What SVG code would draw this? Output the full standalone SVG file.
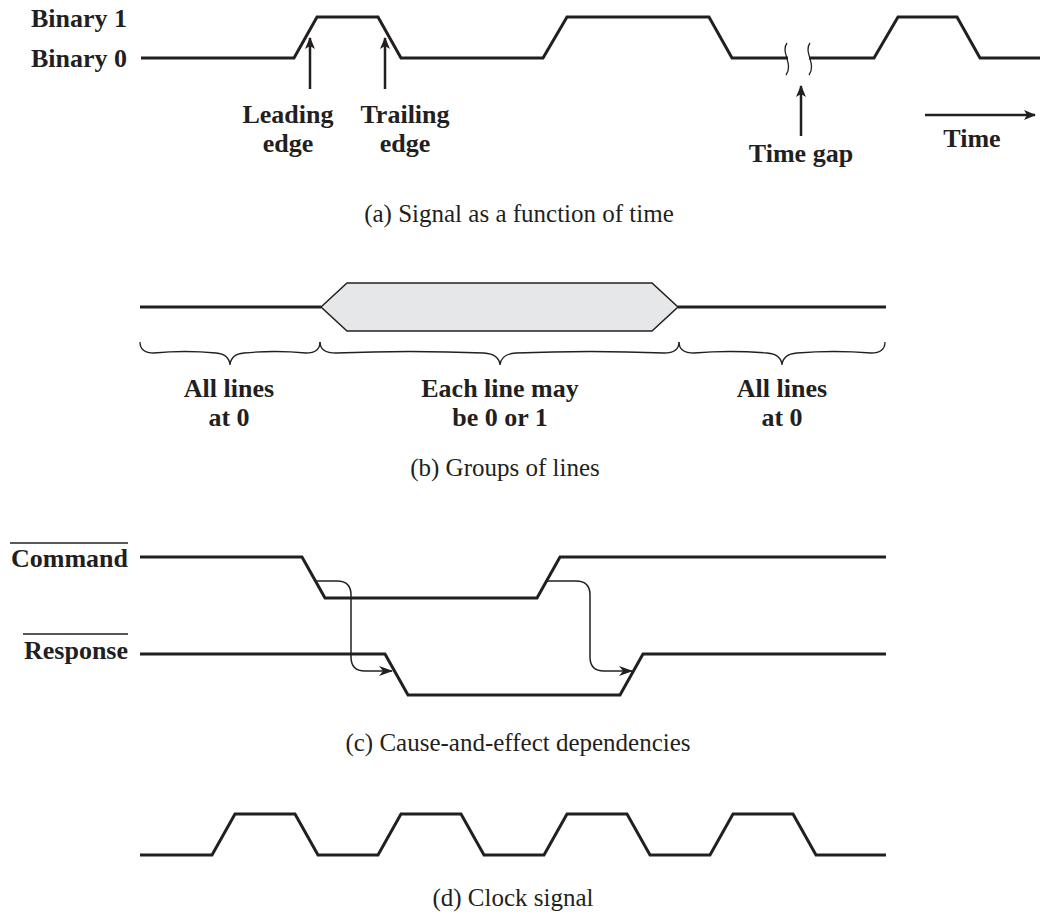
<svg xmlns="http://www.w3.org/2000/svg" width="1046" height="915" viewBox="0 0 1046 915">
<defs>
<style>
.sig{fill:none;stroke:#231f20;stroke-width:3;stroke-linejoin:miter}
.thin{fill:none;stroke:#231f20;stroke-width:1.5}
.brace{fill:none;stroke:#231f20;stroke-width:1.3}
.ptr{fill:none;stroke:#231f20;stroke-width:2.5}
.lbl{font-family:"Liberation Serif","Times New Roman",serif;font-weight:bold;font-size:26px;fill:#231f20}
.cap{font-family:"Liberation Serif","Times New Roman",serif;font-size:25px;fill:#231f20;text-anchor:middle}
.mid{text-anchor:middle}
.end{text-anchor:end}
</style>
<marker id="ah" viewBox="0 0 12 10" refX="11" refY="5" markerWidth="13" markerHeight="10" markerUnits="userSpaceOnUse" orient="auto">
<path d="M0,0 L12,5 L0,10 L3,5 Z" fill="#231f20"/>
</marker>
<marker id="ah2" viewBox="0 0 14 10" refX="13" refY="5" markerWidth="14" markerHeight="10" markerUnits="userSpaceOnUse" orient="auto">
<path d="M0,0 L14,5 L0,10 L4,5 Z" fill="#231f20"/>
</marker>
</defs>
<rect width="1046" height="915" fill="#ffffff"/>

<g id="panel-a">
<g id="label-binary1"><text class="lbl end" x="127" y="27">Binary 1</text></g>
<g id="label-binary0"><text class="lbl end" x="127" y="67">Binary 0</text></g>
<g id="signal-a">
<path class="sig" d="M141,58 L294,58 L317,17 L378,17 L401,58 L543,58 L567,17 L709,17 L732,58 L788,58"/>
<path class="sig" d="M809,58 L874,58 L898,17 L957,17 L980,58 L1040,58"/>
<path class="brace" d="M787,43 C780,52 794,64 786,75"/>
<path class="brace" d="M810,43 C803,52 817,64 809,75"/>
</g>
<g id="label-leading"><text class="lbl mid" x="288" y="123">Leading</text><text class="lbl mid" x="288" y="152">edge</text></g>
<g id="label-trailing"><text class="lbl mid" x="405" y="123">Trailing</text><text class="lbl mid" x="405" y="152">edge</text></g>
<g id="label-timegap"><text class="lbl mid" x="801" y="162">Time gap</text></g>
<g id="label-time"><text class="lbl mid" x="972" y="147">Time</text></g>
<text class="cap" x="519" y="222">(a) Signal as a function of time</text>
</g>

<g id="panel-b">
<g id="bus">
<path class="sig" d="M140,307 L321,307"/>
<path class="sig" d="M678,307 L886,307"/>
<path d="M321,307 L347,283 L652,283 L678,307 L652,331 L347,331 Z" fill="#e6e7e8" stroke="#231f20" stroke-width="1.5"/>
</g>
<g id="braces">
<path class="brace" d="M140,342 Q140,353 154,353 Q185,350 216,353 Q229,354 230,365 Q231,354 244,353 Q275,350 306,353 Q320,353 320,342"/>
<path class="brace" d="M320,342 Q320,353 336,353 Q410,350 484,353 Q499,354 500,365 Q501,354 516,353 Q590,350 664,353 Q679,353 679,342"/>
<path class="brace" d="M679,342 Q679,353 694,353 Q730,350 767,353 Q781,354 782,365 Q783,354 797,353 Q834,350 871,353 Q885,353 885,342"/>
</g>
<g id="label-all0-left"><text class="lbl mid" x="229" y="397">All lines</text><text class="lbl mid" x="229" y="426">at 0</text></g>
<g id="label-each"><text class="lbl mid" x="500" y="397">Each line may</text><text class="lbl mid" x="500" y="426">be 0 or 1</text></g>
<g id="label-all0-right"><text class="lbl mid" x="782" y="397">All lines</text><text class="lbl mid" x="782" y="426">at 0</text></g>
<text class="cap" x="505" y="476">(b) Groups of lines</text>
</g>

<g id="panel-c">
<g id="command">
<text class="lbl end" x="128" y="567">Command</text>
<line x1="10" y1="543" x2="128" y2="543" stroke="#231f20" stroke-width="1.5"/>
<path class="sig" d="M140,557 L302,557 L325,598 L537,598 L560,557 L886,557"/>
</g>
<g id="response">
<text class="lbl end" x="128" y="659">Response</text>
<line x1="23" y1="634" x2="128" y2="634" stroke="#231f20" stroke-width="1.5"/>
<path class="sig" d="M140,654 L385,654 L408,695 L620,695 L643,654 L886,654"/>
</g>
<text class="cap" x="518" y="751">(c) Cause-and-effect dependencies</text>
</g>

<g id="connectors">
<line class="ptr" x1="310" y1="89" x2="310" y2="38" marker-end="url(#ah)"/>
<line class="ptr" x1="385" y1="89" x2="385" y2="38" marker-end="url(#ah)"/>
<line class="ptr" x1="801" y1="136" x2="801" y2="86" marker-end="url(#ah)"/>
<line class="ptr" x1="925" y1="115" x2="1035" y2="115" marker-end="url(#ah)"/>
<path class="thin" d="M316,581 L337,581 Q351,581 351,595 L351,657 Q351,671 365,671 L392,671" marker-end="url(#ah2)"/>
<path class="thin" d="M547,581 L576,581 Q590,581 590,595 L590,657 Q590,671 604,671 L632,671" marker-end="url(#ah2)"/>
</g>

<g id="panel-d">
<path class="sig" d="M140,855 L212,855 L235,814 L295,814 L318,855 L378,855 L401,814 L461,814 L484,855 L544,855 L567,814 L627,814 L650,855 L710,855 L733,814 L793,814 L816,855 L886,855"/>
<text class="cap" x="513" y="906">(d) Clock signal</text>
</g>
</svg>
